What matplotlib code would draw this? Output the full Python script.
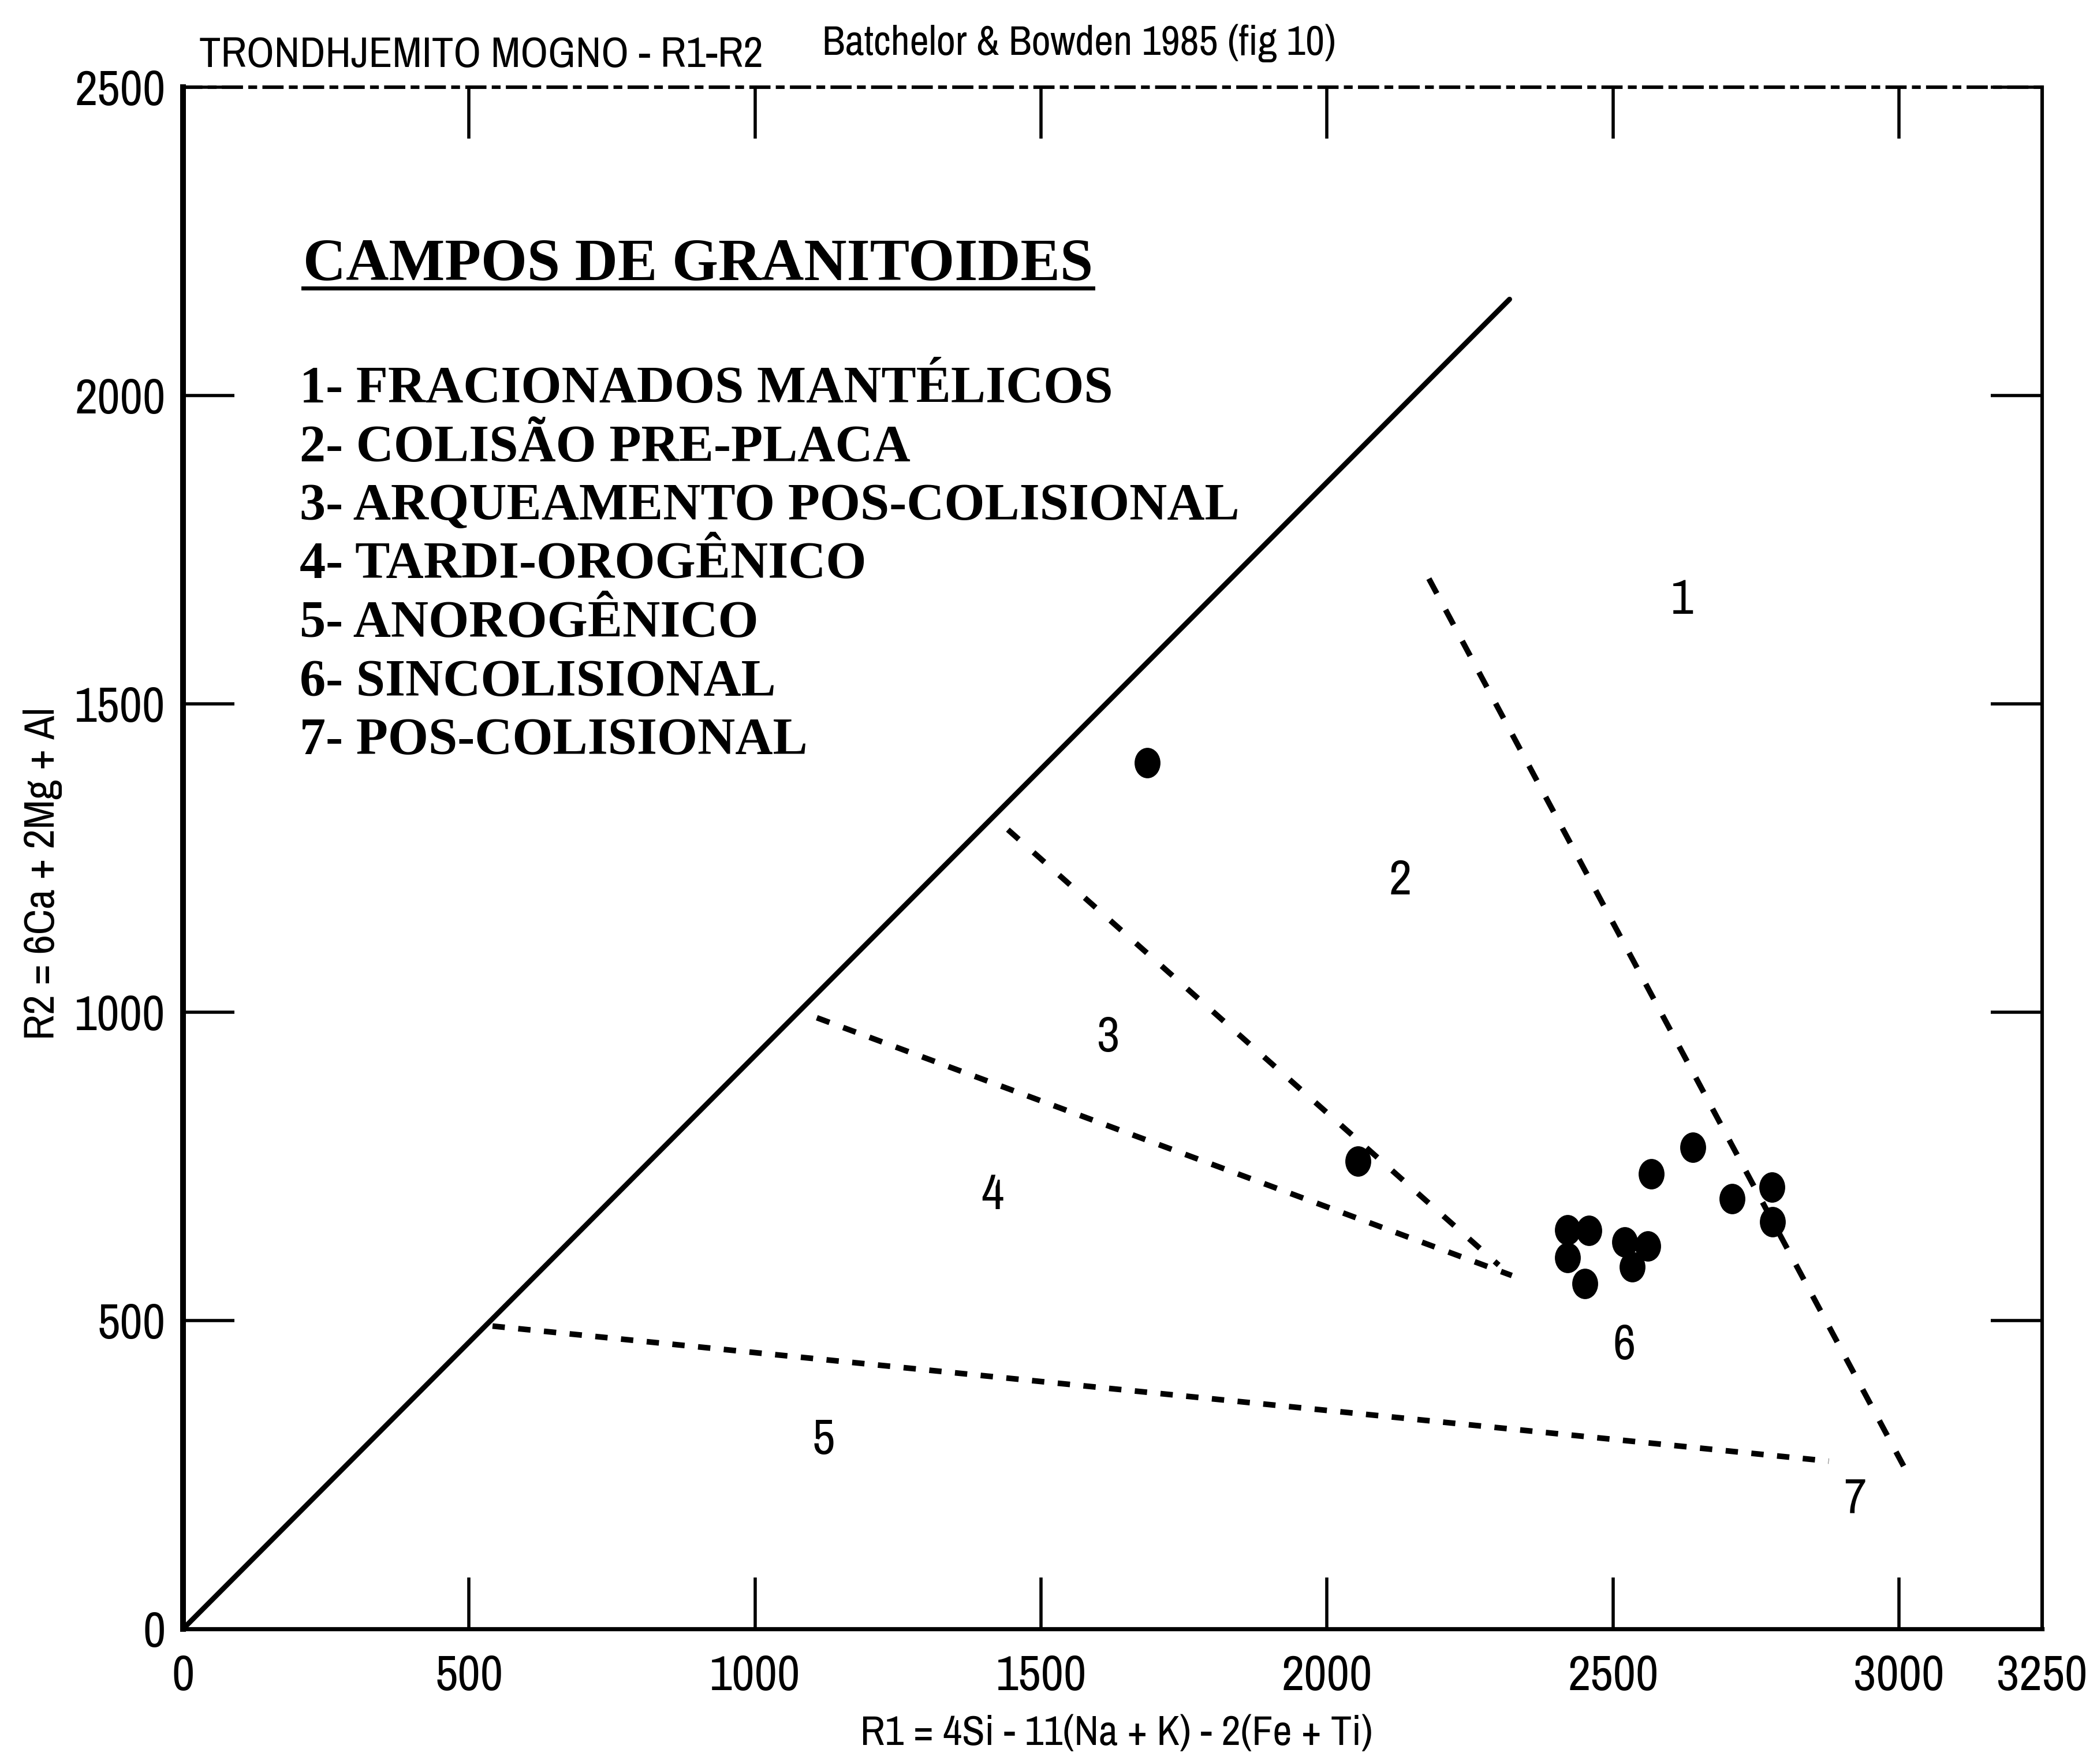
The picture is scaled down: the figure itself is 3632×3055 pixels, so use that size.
import matplotlib
matplotlib.use('Agg')
import matplotlib.pyplot as plt
from matplotlib import font_manager
from matplotlib.font_manager import FontProperties
from matplotlib.lines import Line2D
from matplotlib.path import Path
from matplotlib.transforms import Affine2D

# samples: R1 = 4Si - 11(Na+K) - 2(Fe+Ti), R2 = 6Ca + 2Mg + Al
r1 = [1686, 2054, 2420, 2458, 2420, 2451, 2520, 2561, 2533, 2567, 2639, 2708, 2778, 2779]
r2 = [1404, 758, 647, 646, 602, 560, 627, 621, 587, 738, 781, 698, 716, 660]

# field boundaries (Batchelor & Bowden 1985)
diag_r1 = [0, 2319]
diag_r2 = [0, 2156]
b12_r1 = [2178, 3008]
b12_r2 = [1703, 264]
b23_r1 = [1442, 2300]
b23_r2 = [1296, 590]
b34_r1 = [1108, 2323]
b34_r2 = [991, 573]
b45_r1 = [541, 2877]
b45_r2 = [491, 272]

field_ids = ['1', '2', '3', '4', '5', '6', '7']
field_r1 = [2621, 2128, 1618, 1415, 1120, 2520, 2923]
field_r2 = [1668, 1213, 958, 703, 306, 459, 211]

legend_title = 'CAMPOS DE GRANITOIDES'
legend_items = [
    '1- FRACIONADOS MANTÉLICOS',
    '2- COLISÃO PRE-PLACA',
    '3- ARQUEAMENTO POS-COLISIONAL',
    '4- TARDI-OROGÊNICO',
    '5- ANOROGÊNICO',
    '6- SINCOLISIONAL',
    '7- POS-COLISIONAL',
]

xticks = [0, 500, 1000, 1500, 2000, 2500, 3000, 3250]
yticks = [0, 500, 1000, 1500, 2000, 2500]


def find_narrow():
    """Pick an installed regular condensed/narrow sans face, if any."""
    rank = {'condensed': 0, 'semi-condensed': 1, 'extra-condensed': 2}
    best = None
    for f in font_manager.fontManager.ttflist:
        name = f.name.lower()
        if f.style != 'normal' or f.weight not in (400, 'normal', 'regular'):
            continue
        if 'mono' in name or 'serif' in name.replace('sans', ''):
            continue
        if 'narrow' in name:
            score = -1
        elif f.stretch in rank:
            score = rank[f.stretch]
        elif 'condensed' in name:
            score = 0
        else:
            continue
        if best is None or score < best[0]:
            best = (score, f.fname)
    return best[1] if best else None


NARROW_FILE = find_narrow()


def nfont(size):
    if NARROW_FILE:
        return FontProperties(fname=NARROW_FILE, size=size)
    return FontProperties(family='DejaVu Sans', size=size * 0.8)


serif = dict(family='Liberation Serif', weight='bold')

fig = plt.figure(figsize=(18.16, 15.275), dpi=200)
ax = fig.add_axes([0.0873, 0.0766, 0.8865, 0.874])
ax.set_xlim(0, 3250)
ax.set_ylim(0, 2500)

# frame
ax.spines['left'].set_linewidth(3.6)
ax.spines['bottom'].set_linewidth(2.6)
ax.spines['right'].set_linewidth(2.2)
ax.spines['top'].set_linewidth(2.2)
ax.spines['top'].set_linestyle((0, (5, 2.5, 1.5, 2.5)))

ax.set_xticks(xticks)
ax.set_xticklabels([str(v) for v in xticks])
ax.set_yticks(yticks)
ax.set_yticklabels([str(v) for v in yticks])
ax.tick_params(axis='both', direction='in', length=32, width=2,
               top=True, right=True, colors='black')
ax.tick_params(axis='x', pad=16)
ax.tick_params(axis='y', pad=11)
for lab in ax.get_xticklabels() + ax.get_yticklabels():
    lab.set_fontproperties(nfont(31))

# field boundaries
ax.plot(diag_r1, diag_r2, color='black', lw=3.2, solid_capstyle='round')
ax.plot(b12_r1, b12_r2, color='black', lw=3.5, linestyle=(0, (3.0, 3.3)))
ax.plot(b23_r1, b23_r2, color='black', lw=3.5, linestyle=(0, (2.6, 3.5)))
ax.plot(b34_r1, b34_r2, color='black', lw=3.5, linestyle=(0, (2.4, 2.6)))
ax.plot(b45_r1, b45_r2, color='black', lw=3.5, linestyle=(0, (2.2, 2.4)))

for fid, x, y in zip(field_ids, field_r1, field_r2):
    ax.text(x, y, fid, ha='center', va='center', fontproperties=nfont(31))

# samples as slightly tall filled dots
dot = Path.unit_circle().transformed(Affine2D().scale(0.85, 1.0))
ax.plot(r1, r2, linestyle='none', marker=dot, markersize=19,
        color='black', markeredgewidth=0)

# axis titles
fig.text(0.5325, 0.0173, 'R1 = 4Si - 11(Na + K) - 2(Fe + Ti)',
         ha='center', va='center', fontproperties=nfont(26))
fig.text(0.0204, 0.5047, 'R2 = 6Ca + 2Mg + Al', rotation=90,
         ha='center', va='center', fontproperties=nfont(27))

# header line above the frame
fig.text(0.095, 0.9686, 'TRONDHJEMITO MOGNO - R1-R2',
         ha='left', va='center', fontproperties=nfont(27))
fig.text(0.392, 0.9755, 'Batchelor & Bowden 1985 (fig 10)',
         ha='left', va='center', fontproperties=nfont(26))

# legend block
head = fig.text(0.1445, 0.8412, legend_title, ha='left', va='baseline',
                fontsize=37, **serif)
for i, item in enumerate(legend_items):
    fig.text(0.1429, 1 - (697 + 101.5 * i) / 3055, item, ha='left',
             va='baseline', fontsize=32.5, **serif)

fig.canvas.draw()
bb = head.get_window_extent().transformed(fig.transFigure.inverted())
fig.add_artist(Line2D([bb.x0, bb.x1], [0.8368, 0.8368], color='black',
                      lw=2.5, transform=fig.transFigure))

fig.savefig('out.png', dpi=200, facecolor='white')
